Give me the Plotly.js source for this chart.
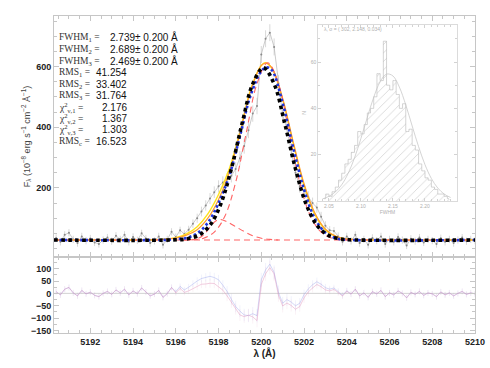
<!DOCTYPE html>
<html>
<head>
<meta charset="utf-8">
<script src="https://cdn.plot.ly/plotly-3.0.1.min.js"></script>
<style>
  html, body { margin: 0; padding: 0; background: #fff; }
  #plot { width: 490px; height: 368px; }
</style>
</head>
<body>
<div id="plot"></div>
<script>
// observed spectrum (wavelength in Angstrom, flux, 1-sigma error)
var waveObs = [
  5190.4,5190.6,5190.8,5191.0,5191.2,5191.4,5191.6,5191.8,5192.0,5192.2,
  5192.4,5192.6,5192.8,5193.0,5193.2,5193.4,5193.6,5193.8,5194.0,5194.2,
  5194.4,5194.6,5194.8,5195.0,5195.2,5195.4,5195.6,5195.8,5196.0,5196.2,
  5196.4,5196.6,5196.8,5197.0,5197.2,5197.4,5197.6,5197.8,5198.0,5198.2,
  5198.4,5198.6,5198.8,5199.0,5199.2,5199.4,5199.6,5199.8,5200.0,5200.2,
  5200.4,5200.6,5200.8,5201.0,5201.2,5201.4,5201.6,5201.8,5202.0,5202.2,
  5202.4,5202.6,5202.8,5203.0,5203.2,5203.4,5203.6,5203.8,5204.0,5204.2,
  5204.4,5204.6,5204.8,5205.0,5205.2,5205.4,5205.6,5205.8,5206.0,5206.2,
  5206.4,5206.6,5206.8,5207.0,5207.2,5207.4,5207.6,5207.8,5208.0,5208.2,
  5208.4,5208.6,5208.8,5209.0,5209.2,5209.4,5209.6,5209.8,5210.0];
var fluxObs = [
  35,22,45,52,30,18,40,26,33,20,
  15,28,36,24,42,30,45,22,38,27,
  50,33,18,25,40,12,30,55,38,60,
  48,62,82,100,122,142,165,186,205,218,
  228,240,262,298,338,390,445,470,640,692,
  712,665,545,440,395,325,250,205,190,170,
  150,135,105,75,60,58,40,22,40,25,
  45,18,30,12,35,26,40,15,30,22,
  38,28,10,32,24,36,20,30,26,15,
  34,22,30,18,28,36,24,30,26];
var errObs = [
  12,12,12,12,12,12,12,12,12,12,
  12,12,12,12,12,12,12,12,12,12,
  12,12,12,12,12,12,12,12,12,12,
  12,13,14,15,16,17,18,19,20,20,
  21,22,23,24,25,26,27,27,28,28,
  28,28,27,26,25,24,22,21,20,19,
  18,17,16,15,14,13,13,12,12,12,
  12,12,12,12,12,12,12,12,12,12,
  12,12,12,12,12,12,12,12,12,12,
  12,12,12,12,12,12,12,12,12];

// residuals (data - fit) for fit 1 and fit 2
var resid1 = [
  7,-6,17,24,2,-10,12,-2,5,-8,
  -13,0,8,-4,14,2,17,-6,10,-1,
  22,5,-10,-3,12,-16,-1,24,2,20,
  4,10,20,28,37,38,41,40,27,13,
  -10,-36,-63,-87,-94,-88,-95,-110,36,79,
  104,79,-7,-51,-39,-49,-64,-53,-18,6,
  22,36,27,14,10,16,3,-11,9,-3,
  17,-10,2,-16,7,-2,12,-13,2,-6,
  10,0,-18,4,-4,8,-8,2,-2,-13,
  6,-6,2,-10,0,8,-4,2,-2];
var resid2 = [
  7,-6,17,24,2,-10,12,-2,5,-8,
  -13,0,8,-4,14,2,17,-6,10,-1,
  22,5,-10,-3,12,-16,-1,24,7,28,
  14,25,39,50,60,65,69,64,55,33,
  8,-24,-53,-72,-87,-90,-82,-90,55,95,
  118,85,5,-40,-25,-35,-50,-40,-5,18,
  35,47,37,23,17,22,8,-8,11,-3,
  17,-10,2,-16,7,-2,12,-13,2,-6,
  10,0,-18,4,-4,8,-8,2,-2,-13,
  6,-6,2,-10,0,8,-4,2,-2];

// fitted profiles
var waveFit1 = [5190.3,5195.0,5195.5,5196.0,5196.5,5197.0,5197.5,5198.0,5198.5,5199.0,5199.5,5200.0,5200.2,5200.5,5201.0,5201.5,5202.0,5202.5,5203.0,5203.5,5204.0,5204.5,5210.0];
var fluxFit1 = [28,29,31,36,48,72,114,178,262,385,525,604,613,594,491,344,208,113,61,39,31,29,28];
var fluxFit1b = [28,28.5,30,34,44,62,100,162,250,378,520,603,612,596,495,350,214,118,64,40,31,29,28];
var waveFit2 = [5190.3,5195.5,5196.0,5196.5,5197.0,5197.5,5198.0,5198.5,5199.0,5199.5,5200.0,5200.25,5200.5,5201.0,5201.5,5202.0,5202.5,5203.0,5203.5,5204.0,5210.0];
var fluxFit2 = [28,28.5,31,35,50,85,150,240,370,505,585,598,588,480,330,195,100,52,34,29,28];
var waveFit3 = [5190.3,5196.1,5196.6,5197.1,5197.6,5198.1,5198.6,5199.1,5199.6,5200.1,5200.6,5201.1,5201.6,5202.1,5202.6,5203.1,5203.6,5204.1,5210.0];
var fluxFit3 = [28,29,33,45,77,146,263,412,543,596,543,412,263,146,77,45,33,29,28];
// individual components
var waveNarrow = [5196.3,5196.8,5197.3,5197.8,5198.3,5198.8,5199.3,5199.8,5200.3,5200.8,5201.3,5201.8,5202.3,5202.8,5203.3,5203.8,5204.3];
var fluxNarrow = [28,29,34,54,107,218,383,544,613,544,383,218,107,54,34,29,28];
var waveBroad = [5196.6,5197.0,5197.3,5197.6,5197.85,5198.07,5198.4,5198.8,5199.2,5199.6,5200.0,5200.4,5200.8];
var fluxBroad = [28,32,45,70,90,96,88,72,56,42,34,30,28];
var waveCont = [5190.3, 5210.0];
var fluxCont = [28, 28];

// inset: FWHM distribution
var fwhmBins = [2.0425,2.0475,2.0525,2.0575,2.0625,2.0675,2.0725,2.0775,2.0825,2.0875,
  2.0925,2.0975,2.1025,2.1075,2.1125,2.1175,2.1225,2.1275,2.1325,2.1375,
  2.1425,2.1475,2.1525,2.1575,2.1625,2.1675,2.1725,2.1775,2.1825,2.1875,
  2.1925,2.1975,2.2025,2.2075,2.2125,2.2175,2.2225,2.2275,2.2325,2.2375];
var fwhmCounts = [1,3,2,4,6,9,12,16,18,21,
  24,30,29,33,38,40,45,55,52,69,
  50,48,52,46,40,42,30,31,24,22,
  16,13,10,9,6,5,3,3,2,1];
var gaussX = [2.04,2.05,2.06,2.07,2.08,2.09,2.10,2.11,2.12,2.13,2.14,2.15,2.16,2.17,2.18,2.19,2.20,2.21,2.22,2.23,2.24];
var gaussY = [0.9,2.0,3.9,7.0,11.9,18.6,27.0,36.1,44.8,51.5,54.8,54.0,49.2,41.5,32.4,23.5,15.7,9.7,5.6,3.0,1.5];

// text block
var statLabels = ['FWHM<sub>1</sub> =', 'FWHM<sub>2</sub> =', 'FWHM<sub>3</sub> =',
  'RMS<sub>1</sub> =', 'RMS<sub>2</sub> =', 'RMS<sub>3</sub> =',
  'χ<sup>2</sup><sub>ν,1</sub> =', 'χ<sup>2</sup><sub>ν,2</sub> =', 'χ<sup>2</sup><sub>ν,3</sub> =',
  'RMS<sub>c</sub> ='];
var statValues = ['2.739± 0.200 Å', '2.689± 0.200 Å', '2.469± 0.200 Å',
  '41.254', '33.402', '31.764', '2.176', '1.367', '1.303', '16.523'];

// page geometry (pixels)
var W = 490, H = 368;
var mL = 54, mR = 15, mT = 16, mB = 35;
var pw = W - mL - mR, ph = H - mT - mB;
function px(x) { return (x - mL) / pw; }
function py(y) { return (H - mB - y) / ph; }
var split = py(257);

var frame = '#c6c6c6';
var tickFont = {family: 'Liberation Sans, Arial, sans-serif', size: 9, color: '#222', weight: 'bold'};

var traces = [];
// data
traces.push({
  x: waveObs, y: fluxObs, xaxis: 'x2', yaxis: 'y',
  type: 'scatter', mode: 'lines+markers',
  line: {color: '#a8a8a8', width: 0.6},
  marker: {color: '#8a8a8a', size: 2},
  error_y: {type: 'data', array: errObs, color: '#c0c0c0', thickness: 0.6, width: 0},
  hoverinfo: 'skip'
});
traces.push({x: waveFit1, y: fluxFit1, xaxis: 'x2', yaxis: 'y', type: 'scatter', mode: 'lines',
  line: {color: '#ffe21a', width: 1.4, shape: 'spline'}});
traces.push({x: waveFit1, y: fluxFit1b, xaxis: 'x2', yaxis: 'y', type: 'scatter', mode: 'lines',
  line: {color: '#ff9c2a', width: 1.2, shape: 'spline'}});
traces.push({x: waveBroad, y: fluxBroad, xaxis: 'x2', yaxis: 'y', type: 'scatter', mode: 'lines',
  line: {color: '#ff6464', width: 1.1, dash: '6px,4px', shape: 'spline'}});
traces.push({x: waveNarrow, y: fluxNarrow, xaxis: 'x2', yaxis: 'y', type: 'scatter', mode: 'lines',
  line: {color: '#ff6464', width: 1.1, dash: '6px,4px', shape: 'spline'}});
traces.push({x: waveCont, y: fluxCont, xaxis: 'x2', yaxis: 'y', type: 'scatter', mode: 'lines',
  line: {color: '#ff6464', width: 1.1, dash: '6px,4px'}});
traces.push({x: waveFit2, y: fluxFit2, xaxis: 'x2', yaxis: 'y', type: 'scatter', mode: 'lines',
  line: {color: '#1f35e0', width: 2.6, dash: '2.6px,2.6px', shape: 'spline'}});
traces.push({x: waveFit3, y: fluxFit3, xaxis: 'x2', yaxis: 'y', type: 'scatter', mode: 'lines',
  line: {color: '#000', width: 3.6, dash: '3.6px,3.4px', shape: 'spline'}});

// residuals
traces.push({x: waveObs, y: resid2, xaxis: 'x', yaxis: 'y2', type: 'scatter', mode: 'lines',
  line: {color: 'rgba(150,160,235,0.6)', width: 0.7},
  error_y: {type: 'data', array: errObs, color: 'rgba(160,170,235,0.3)', thickness: 0.5, width: 0}});
traces.push({x: waveObs, y: resid1, xaxis: 'x', yaxis: 'y2', type: 'scatter', mode: 'lines',
  line: {color: 'rgba(225,145,185,0.65)', width: 0.7},
  error_y: {type: 'data', array: errObs, color: 'rgba(230,165,195,0.3)', thickness: 0.5, width: 0}});

// inset histogram: hatched fill plus step outline
traces.push({x: fwhmBins, y: fwhmCounts, xaxis: 'x3', yaxis: 'y3', type: 'bar', width: 0.005,
  marker: {color: '#fff', line: {width: 0},
    pattern: {shape: '/', fgcolor: '#cfcfcf', bgcolor: '#fff', size: 6, solidity: 0.12}}});
traces.push({x: fwhmBins, y: fwhmCounts, xaxis: 'x3', yaxis: 'y3', type: 'scatter', mode: 'lines',
  line: {color: '#c2c2c2', width: 0.7, shape: 'hvh'}});
traces.push({x: gaussX, y: gaussY, xaxis: 'x3', yaxis: 'y3', type: 'scatter', mode: 'lines',
  line: {color: '#c2c2c2', width: 0.7, shape: 'spline'}});

var annotations = [];
var rowY = [37, 49, 61, 72, 84, 95, 107, 118, 129, 141];
for (var i = 0; i < statLabels.length; i++) {
  annotations.push({xref: 'paper', yref: 'paper', x: px(57), y: py(rowY[i]), xanchor: 'left', yanchor: 'middle',
    showarrow: false, text: statLabels[i], font: {family: 'Liberation Serif, serif', size: 9.5, color: '#333'}});
  var isFwhm = i < 3;
  annotations.push({xref: 'paper', yref: 'paper', x: isFwhm ? px(108) : px(129), y: py(rowY[i]),
    xanchor: isFwhm ? 'left' : 'right', yanchor: 'middle', showarrow: false, text: statValues[i],
    font: {family: 'Liberation Sans, Arial, sans-serif', size: 10, color: '#111'}});
}
annotations.push({xref: 'paper', yref: 'paper', x: px(322), y: py(29), xanchor: 'left', yanchor: 'middle',
  showarrow: false, text: 'λ, σ = ( 302, 2.148, 0.034)', font: {family: 'Liberation Sans, sans-serif', size: 5, color: '#b0b0b0'}});

var axCommon = {
  showline: true, linecolor: frame, linewidth: 1, mirror: 'allticks',
  ticks: 'inside', ticklen: 5, tickcolor: frame, zeroline: false, showgrid: false,
  tickfont: tickFont
};

var layout = {
  width: W, height: H,
  margin: {l: mL, r: mR, t: mT, b: mB},
  paper_bgcolor: '#fff', plot_bgcolor: 'rgba(0,0,0,0)',
  showlegend: false,
  bargap: 0,
  annotations: annotations,
  xaxis: Object.assign({}, axCommon, {
    domain: [0, 1], anchor: 'y2', range: [5190.3, 5210],
    tickvals: [5192, 5194, 5196, 5198, 5200, 5202, 5204, 5206, 5208, 5210],
    minor: {dtick: 0.5, ticks: 'inside', ticklen: 3, tickcolor: frame},
    title: {text: 'λ (Å)', standoff: 2, font: {family: 'Liberation Sans, Arial, sans-serif', size: 10, color: '#222', weight: 'bold'}}
  }),
  yaxis2: Object.assign({}, axCommon, {
    domain: [0, split], anchor: 'x', range: [-160, 147],
    tickvals: [-150, -100, -50, 0, 50, 100],
    minor: {dtick: 25, ticks: 'inside', ticklen: 3, tickcolor: frame}
  }),
  xaxis2: Object.assign({}, axCommon, {
    domain: [0, 1], anchor: 'y', matches: 'x', range: [5190.3, 5210],
    tickvals: [5192, 5194, 5196, 5198, 5200, 5202, 5204, 5206, 5208, 5210],
    showticklabels: false,
    minor: {dtick: 0.5, ticks: 'inside', ticklen: 3, tickcolor: frame}
  }),
  yaxis: Object.assign({}, axCommon, {
    domain: [split, 1], anchor: 'x2', range: [-28, 767],
    tickvals: [200, 400, 600],
    minor: {dtick: 50, ticks: 'inside', ticklen: 3, tickcolor: frame},
    title: {text: 'F<sub>λ</sub> (10<sup>−8</sup> erg s<sup>−1</sup> cm<sup>−2</sup> Å<sup>−1</sup>)', standoff: 4,
      font: {family: 'Liberation Sans, Arial, sans-serif', size: 9, color: '#444'}}
  }),
  xaxis3: {
    domain: [px(318), px(457)], anchor: 'y3', range: [2.033, 2.25],
    showline: true, linecolor: '#d2d2d2', linewidth: 0.8, mirror: 'allticks',
    ticks: 'inside', ticklen: 3, tickcolor: '#d2d2d2', showgrid: false, zeroline: false,
    tickvals: [2.05, 2.10, 2.15, 2.20], ticktext: ['2.05', '2.10', '2.15', '2.20'],
    minor: {dtick: 0.01, ticks: 'inside', ticklen: 2, tickcolor: '#d2d2d2'},
    tickfont: {family: 'Liberation Sans, sans-serif', size: 5, color: '#b0b0b0'},
    title: {text: 'FWHM', standoff: 1, font: {family: 'Liberation Sans, sans-serif', size: 5, color: '#b0b0b0'}}
  },
  yaxis3: {
    domain: [py(201), py(25)], anchor: 'x3', range: [0, 76],
    showline: true, linecolor: '#d2d2d2', linewidth: 0.8, mirror: 'allticks',
    ticks: 'inside', ticklen: 3, tickcolor: '#d2d2d2', showgrid: false, zeroline: false,
    tickvals: [20, 40, 60],
    minor: {dtick: 10, ticks: 'inside', ticklen: 2, tickcolor: '#d2d2d2'},
    tickfont: {family: 'Liberation Sans, sans-serif', size: 5, color: '#b0b0b0'},
    title: {text: 'N', standoff: 3, font: {family: 'Liberation Sans, sans-serif', size: 5, color: '#b0b0b0'}}
  },
  shapes: [{type: 'line', xref: 'x', yref: 'y2', x0: 5190.3, x1: 5210, y0: 0, y1: 0,
    line: {color: '#c8c8c8', width: 0.8}, layer: 'below'}]
};

Plotly.newPlot('plot', traces, layout, {staticPlot: true});
</script>
</body>
</html>
